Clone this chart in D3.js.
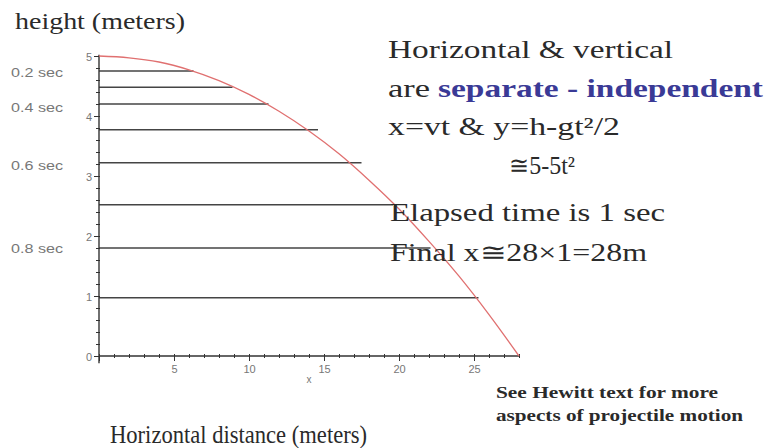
<!DOCTYPE html>
<html>
<head>
<meta charset="utf-8">
<script src="https://cdn.jsdelivr.net/npm/d3@7"></script>
<style>
  html, body { margin: 0; padding: 0; background: #fff; }
  svg { display: block; }
</style>
</head>
<body>
<svg id="chart" width="772" height="448"></svg>
<script>
// ---- data ----
const curveX = [0, 2, 4, 6, 8, 10, 12, 14, 16, 18, 20, 22, 24, 26, 28];
const curveY = [5.0, 4.97, 4.90, 4.77, 4.59, 4.36, 4.08, 3.75, 3.37, 2.93, 2.45, 1.91, 1.33, 0.69, 0.0];
const levelHeights = [4.75, 4.48, 4.2, 3.77, 3.22, 2.52, 1.8, 0.97];
const levelEnds    = [6.3, 8.9, 11.3, 14.6, 17.5, 19.6, 22.1, 25.3];
const timeLabels   = ["0.2 sec", "0.4 sec", "0.6 sec", "0.8 sec"];
const timeLabelY   = [4.72, 4.15, 3.18, 1.8];
const xTicks = [0, 5, 10, 15, 20, 25];
const yTicks = [0, 1, 2, 3, 4, 5];

const svg = d3.select("#chart");
const x = d3.scaleLinear().domain([0, 28]).range([99, 519]);
const y = d3.scaleLinear().domain([0, 5]).range([356, 56]);

const tickColor = "#333";
const labelColor = "#777";
const sans = "Arial, 'Liberation Sans', sans-serif";

// horizontal level lines
svg.append("g").selectAll("line").data(levelHeights).join("line")
  .attr("x1", x(0)).attr("x2", (d, i) => x(levelEnds[i]))
  .attr("y1", d => y(d)).attr("y2", d => y(d))
  .attr("stroke", "#444").attr("stroke-width", 1.4);

// axes (minor + major ticks)
const gx = svg.append("g").attr("transform", `translate(0,${y(0)})`);
gx.call(d3.axisBottom(x).tickValues(d3.range(0, 29, 1)).tickSize(3).tickFormat(""))
  .call(g => g.select(".domain").remove());
gx.selectAll(".tick line").attr("y1", -2).attr("y2", 2).attr("stroke", tickColor);
const gx2 = svg.append("g").attr("transform", `translate(0,${y(0)})`);
gx2.call(d3.axisBottom(x).tickValues(xTicks).tickSize(5).tickPadding(4).tickFormat(d => d === 0 ? "" : d3.format("d")(d)));
gx2.select(".domain").attr("d", `M${x(0)},0H${x(28)}`).attr("stroke", tickColor).attr("stroke-width", 1.4);
gx2.selectAll(".tick line").attr("stroke", tickColor).attr("y1", -1);
gx2.selectAll(".tick text").attr("fill", labelColor).attr("font-family", sans).attr("font-size", 11);

const gy = svg.append("g").attr("transform", `translate(${x(0)},0)`);
gy.call(d3.axisLeft(y).tickValues(d3.range(0, 5.01, 0.2)).tickSize(3).tickFormat(""))
  .call(g => g.select(".domain").remove());
gy.selectAll(".tick line").attr("x1", -3).attr("x2", 1).attr("stroke", tickColor);
const gy2 = svg.append("g").attr("transform", `translate(${x(0)},0)`);
gy2.call(d3.axisLeft(y).tickValues(yTicks).tickSize(5).tickPadding(2).tickFormat(d3.format("d")));
gy2.select(".domain").attr("d", `M0,${y(-0.12)}V${y(5.02)}`).attr("stroke", tickColor).attr("stroke-width", 1.4);
gy2.selectAll(".tick line").attr("stroke", tickColor);
gy2.selectAll(".tick text").attr("fill", labelColor).attr("font-family", sans).attr("font-size", 11)
  .attr("dy", "0.45em");

// trajectory curve
const line = d3.line().x(d => x(d)).y((d, i) => y(curveY[i])).curve(d3.curveCatmullRom);
svg.append("path").datum(curveX).attr("d", line)
  .attr("fill", "none").attr("stroke", "#e07070").attr("stroke-width", 1.3);

// time labels
svg.append("g").selectAll("text").data(timeLabels).join("text")
  .attr("x", 11).attr("y", (d, i) => y(timeLabelY[i])).attr("dy", "0.35em")
  .attr("font-family", sans).attr("font-size", 13)
  .attr("textLength", 52).attr("lengthAdjust", "spacingAndGlyphs")
  .attr("fill", labelColor).text(d => d);

// small "x" axis name
svg.append("text").attr("x", 309).attr("y", 383).attr("text-anchor", "middle")
  .attr("font-family", sans).attr("font-size", 10).attr("fill", labelColor).text("x");

const serif = "'Liberation Serif', 'Times New Roman', serif";
function txt(str, xx, yy, size, len, opts = {}) {
  const t = svg.append("text").attr("x", xx).attr("y", yy)
    .style("font-family", serif).attr("font-size", size)
    .attr("fill", opts.fill || "#2a2a2a").attr("font-weight", opts.weight || "normal")
    .text(str);
  if (len) t.attr("textLength", len).attr("lengthAdjust", "spacingAndGlyphs");
  return t;
}

txt("height (meters)", 15, 29, 24, 170);
txt("Horizontal distance (meters)", 110, 443, 26, 257);

txt("Horizontal & vertical", 388, 58, 25, 285);
txt("are", 388, 97, 25, 42);
txt("separate - independent", 438, 97, 25, 325, { fill: "#3a3a96", weight: "bold" });
txt("x=vt & y=h-gt²/2", 388, 135, 25, 232);
txt("≅5-5t²", 509, 174, 25, 66);
txt("Elapsed time is 1 sec", 390, 221, 25, 275);
txt("Final x≅28×1=28m", 390, 261, 25, 257);

txt("See Hewitt text for more", 496, 398, 16, 222, { weight: "bold" });
txt("aspects of projectile motion", 496, 421, 16, 247, { weight: "bold" });
</script>
</body>
</html>
